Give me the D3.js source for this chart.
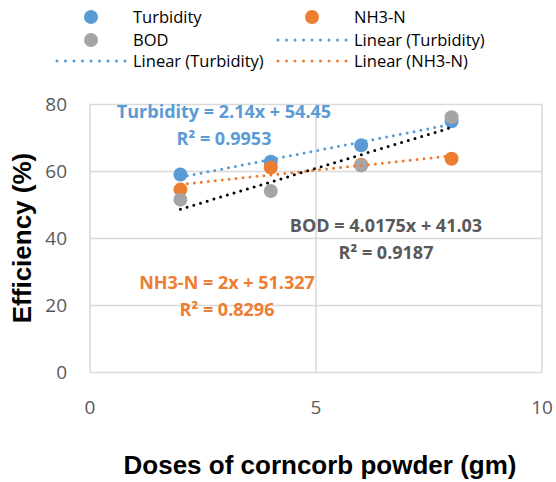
<!DOCTYPE html>
<html>
<head>
<meta charset="utf-8">
<script src="https://cdn.jsdelivr.net/npm/d3@7"></script>
<style>
    body { margin: 0; background: #fff; }
    svg { display: block; }
    .grid line { stroke: #d9d9d9; stroke-width: 1.5; }
    .tick-label { font-family: "Open Sans", sans-serif; font-size: 19px;
        fill: #595959; }
    .axis-title { font-family: "Liberation Sans", Arial, sans-serif;
        font-weight: bold; font-size: 26px; fill: #000; }
    .legend text { font-family: "Open Sans", sans-serif; font-size: 16.5px;
        fill: #000; }
    .eq { font-family: "Open Sans", sans-serif; font-weight: bold;
        font-size: 18px; }
</style>
</head>
<body>
<svg width="556" height="482"></svg>
<script>
/*jslint browser: true */
/*global d3 */

var doses = [2, 4, 6, 8];
var turbidity = [59.1, 62.9, 67.8, 75.0];
var nh3n = [54.6, 61.2, 62.0, 63.8];
var bod = [51.6, 54.2, 61.8, 76.2];

var seriesNames = ["Turbidity", "NH3-N", "BOD"];
var xTicks = [0, 5, 10];
var yTicks = [0, 20, 40, 60, 80];

var equations = [
    ["Turbidity = 2.14x + 54.45", "R² = 0.9953"],
    ["BOD = 4.0175x + 41.03", "R² = 0.9187"],
    ["NH3-N = 2x + 51.327", "R² = 0.8296"]
];

var legendLabels = [
    "Turbidity", "NH3-N",
    "BOD", "Linear (Turbidity)",
    "Linear (Turbidity)", "Linear (NH3-N)"
];

(function () {
    "use strict";

    var blue = "#5b9bd5";
    var orange = "#ed7d31";
    var grey = "#a5a5a5";

    var svg = d3.select("svg");

    var x = d3.scaleLinear().domain([0, 10]).range([90, 542]);
    var y = d3.scaleLinear().domain([0, 80]).range([372.5, 104.5]);

    var series = [
        {name: seriesNames[0], values: turbidity, color: blue, trend: blue},
        {name: seriesNames[1], values: nh3n, color: orange, trend: orange},
        {name: seriesNames[2], values: bod, color: grey, trend: "#000"}
    ];

    // least squares fit, as the trendline does
    var fit = function (values) {
        var mx = d3.mean(doses);
        var my = d3.mean(values);
        var sxy = d3.sum(doses, function (d, i) {
            return (d - mx) * (values[i] - my);
        });
        var sxx = d3.sum(doses, function (d) {
            return (d - mx) * (d - mx);
        });
        var slope = sxy / sxx;
        return function (v) {
            return my + slope * (v - mx);
        };
    };

    // grid
    var grid = svg.append("g").attr("class", "grid");
    grid.selectAll("line.h")
        .data(yTicks)
        .join("line")
        .attr("class", "h")
        .attr("x1", x(0))
        .attr("x2", x(10))
        .attr("y1", y)
        .attr("y2", y);
    grid.selectAll("line.v")
        .data(xTicks)
        .join("line")
        .attr("class", "v")
        .attr("x1", x)
        .attr("x2", x)
        .attr("y1", y(0))
        .attr("y2", y(80));

    // tick labels
    svg.append("g")
        .selectAll("text")
        .data(yTicks)
        .join("text")
        .attr("class", "tick-label")
        .attr("x", 67)
        .attr("y", y)
        .attr("dy", "0.35em")
        .attr("text-anchor", "end")
        .text(String);
    svg.append("g")
        .selectAll("text")
        .data(xTicks)
        .join("text")
        .attr("class", "tick-label")
        .attr("x", x)
        .attr("y", 407)
        .attr("dy", "0.35em")
        .attr("text-anchor", "middle")
        .text(String);

    // axis titles
    svg.append("text")
        .attr("class", "axis-title")
        .attr("transform", "translate(31,238) rotate(-90)")
        .attr("text-anchor", "middle")
        .text("Efficiency (%)");
    svg.append("text")
        .attr("class", "axis-title")
        .attr("x", 320)
        .attr("y", 474)
        .attr("text-anchor", "middle")
        .text("Doses of corncorb powder (gm)");

    // points
    series.forEach(function (s) {
        svg.append("g")
            .selectAll("circle")
            .data(s.values)
            .join("circle")
            .attr("cx", function (d, i) {
                return x(doses[i]);
            })
            .attr("cy", y)
            .attr("r", 7)
            .attr("fill", s.color);
    });

    // trendlines
    series.forEach(function (s) {
        var f = fit(s.values);
        var ends = d3.extent(doses);
        svg.append("line")
            .attr("x1", x(ends[0]))
            .attr("y1", y(f(ends[0])))
            .attr("x2", x(ends[1]))
            .attr("y2", y(f(ends[1])))
            .attr("stroke", s.trend)
            .attr("stroke-width", 3)
            .attr("stroke-linecap", "round")
            .attr("stroke-dasharray", "0 7");
    });

    // equation labels
    var eqSpec = [
        {lines: equations[0], color: blue, cx: 224, top: 112},
        {lines: equations[1], color: "#595959", cx: 386, top: 226},
        {lines: equations[2], color: orange, cx: 227, top: 283}
    ];
    eqSpec.forEach(function (e) {
        svg.append("g")
            .selectAll("text")
            .data(e.lines)
            .join("text")
            .attr("class", "eq")
            .attr("fill", e.color)
            .attr("x", e.cx)
            .attr("y", function (d, i) {
                return e.top + i * 26.5;
            })
            .attr("dy", "0.35em")
            .attr("text-anchor", "middle")
            .text(String);
    });

    // legend
    var legendItems = [
        {type: "dot", color: blue, col: 0, row: 0},
        {type: "dot", color: orange, col: 1, row: 0},
        {type: "dot", color: grey, col: 0, row: 1},
        {type: "line", color: blue, col: 1, row: 1},
        {type: "line", color: blue, col: 0, row: 2},
        {type: "line", color: orange, col: 1, row: 2}
    ];
    var colX = [133, 354];
    var rowY = [17, 40, 61];
    var legend = svg.append("g").attr("class", "legend");
    legendItems.forEach(function (item, i) {
        var tx = colX[item.col];
        var ty = rowY[item.row];
        if (item.type === "dot") {
            legend.append("circle")
                .attr("cx", tx - 42)
                .attr("cy", ty)
                .attr("r", 7)
                .attr("fill", item.color);
        } else {
            legend.append("line")
                .attr("x1", tx - 76)
                .attr("x2", tx - 7)
                .attr("y1", ty)
                .attr("y2", ty)
                .attr("stroke", item.color)
                .attr("stroke-width", 3)
                .attr("stroke-linecap", "round")
                .attr("stroke-dasharray", "0 8.5");
        }
        legend.append("text")
            .attr("x", tx)
            .attr("y", ty)
            .attr("dy", "0.35em")
            .text(legendLabels[i]);
    });
}());
</script>
</body>
</html>
